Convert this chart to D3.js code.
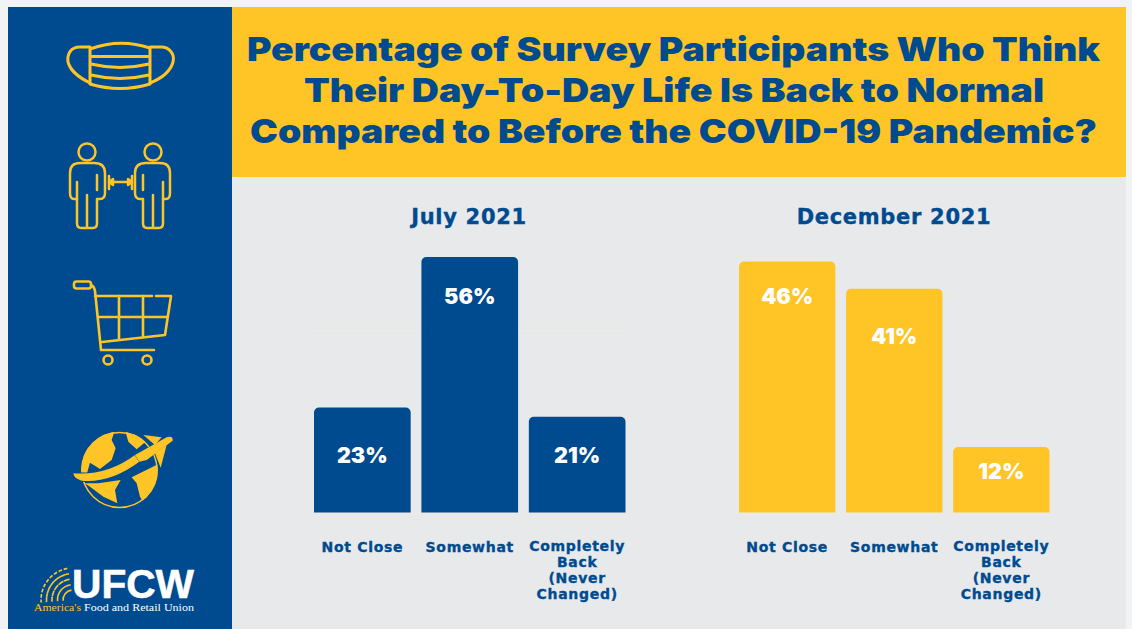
<!DOCTYPE html>
<html>
<head>
<meta charset="utf-8">
<script src="https://cdn.jsdelivr.net/npm/d3@7"></script>
<style>
  html, body { margin: 0; padding: 0; background: #f2f3f5; }
  svg { display: block; }
  text { font-family: Inter, "Open Sans", sans-serif; }
</style>
</head>
<body>
<svg id="chart" width="1132" height="629"></svg>
<script>
// Survey data
const categories = ["Not Close", "Somewhat", "Completely Back (Never Changed)"];
const july2021 = [23, 56, 21];
const december2021 = [46, 41, 12];
const periods = ["July 2021", "December 2021"];
const titleLines = [
  "Percentage of Survey Participants Who Think",
  "Their Day-To-Day Life Is Back to Normal",
  "Compared to Before the COVID-19 Pandemic?"
];
const gridValues = [0, 40];
const wrappedLabel = {
  "Completely Back (Never Changed)": ["Completely", "Back", "(Never", "Changed)"]
};

const BLUE = "#004b8f", YELLOW = "#ffc425", GRAY = "#e8e9eb", GRID = "#efece2";
const WIDE_BOLD = "'DejaVu Sans', sans-serif";
const svg = d3.select("#chart");

// Page panels
svg.append("rect").attr("x", 232).attr("y", 7).attr("width", 894).attr("height", 622).attr("fill", GRAY);
svg.append("rect").attr("x", 232).attr("y", 7).attr("width", 894).attr("height", 170).attr("fill", YELLOW);
svg.append("rect").attr("x", 8).attr("y", 7).attr("width", 224).attr("height", 622).attr("fill", BLUE);

// Heading
const titleX = [247, 304, 250], titleW = [853, 740, 847], titleY = [61, 102, 143];
svg.append("g").selectAll("text").data(titleLines).join("text")
  .attr("x", (d, i) => titleX[i]).attr("y", (d, i) => titleY[i])
  .attr("textLength", (d, i) => titleW[i]).attr("lengthAdjust", "spacingAndGlyphs")
  .attr("font-size", 33).attr("font-weight", 900).attr("fill", BLUE)
  .text(d => d);

// One small-multiple panel: bars, faint grid, value labels, category axis
function panel(values, period, opt) {
  const x = d3.scaleBand().domain(categories).range(opt.xRange).paddingInner(0.1);
  const y = d3.scaleLinear().domain([0, opt.maxValue]).range([512.5, opt.topY]);
  const g = svg.append("g");

  g.append("g").attr("transform", `translate(${opt.xRange[0]},0)`)
    .call(d3.axisLeft(y).tickValues(gridValues).tickFormat("").tickSize(-(opt.xRange[1] - opt.xRange[0])))
    .call(a => a.select(".domain").remove())
    .selectAll("line").attr("stroke", GRID).attr("stroke-width", 1.2);

  const r = 5;
  g.append("g").selectAll("path").data(values).join("path")
    .attr("fill", opt.color)
    .attr("d", (d, i) => {
      const p = d3.path(), x0 = x(categories[i]), w = x.bandwidth(), t = y(d), b = y(0);
      p.moveTo(x0, b);
      p.lineTo(x0, t + r);
      p.arcTo(x0, t, x0 + r, t, r);
      p.lineTo(x0 + w - r, t);
      p.arcTo(x0 + w, t, x0 + w, t + r, r);
      p.lineTo(x0 + w, b);
      p.closePath();
      return p.toString();
    });

  g.append("g").selectAll("text").data(values).join("text")
    .attr("x", (d, i) => x(categories[i]) + x.bandwidth() / 2)
    .attr("y", (d, i) => y(d) + opt.labelDrop[i])
    .attr("text-anchor", "middle").attr("font-size", 21.5).attr("font-weight", 900).attr("fill", "#fff")
    .text(d => d + "%");

  const axis = g.append("g").attr("transform", "translate(0,512.5)")
    .call(d3.axisBottom(x).tickSize(0).tickPadding(0));
  axis.select(".domain").remove();
  axis.selectAll(".tick text").each(function (d) {
    const lines = wrappedLabel[d] || [d];
    const t = d3.select(this).text(null).attr("y", 0).attr("dy", null)
      .attr("font-size", 14).attr("font-weight", 700).attr("fill", BLUE)
      .attr("stroke", BLUE).attr("stroke-width", 0.35).attr("letter-spacing", 0.7)
      .style("font-family", WIDE_BOLD);
    lines.forEach((line, k) => {
      t.append("tspan").attr("x", 0).attr("y", (lines.length > 1 ? 38 : 39) + k * 16.3).text(line);
    });
  });

  g.append("text").attr("x", opt.titleX).attr("y", 223.5)
    .attr("text-anchor", "middle").attr("font-size", 21).attr("font-weight", 700).attr("fill", BLUE)
    .attr("stroke", BLUE).attr("stroke-width", 0.35).attr("letter-spacing", 0.7)
    .style("font-family", WIDE_BOLD)
    .text(period);
}

panel(july2021, periods[0], {
  xRange: [314, 625.5], maxValue: 56, topY: 257, color: BLUE, titleX: 469,
  labelDrop: [55, 47, 46]
});
panel(december2021, periods[1], {
  xRange: [739, 1049.5], maxValue: 46, topY: 261.5, color: YELLOW, titleX: 894,
  labelDrop: [42, 55, 32]
});

// Sidebar pictograms
const icons = svg.append("g").attr("fill", "none").attr("stroke", YELLOW)
  .attr("stroke-width", 3).attr("stroke-linecap", "round").attr("stroke-linejoin", "round");

// Face mask
const mask = icons.append("g");
[
  "M90,49 Q120,38 150,48 V84 Q120,93 90,84 Z",
  "M91,56.5 H149",
  "M91,64 Q120,71 149,64",
  "M91,75 Q120,82 149,75",
  "M90,47 H80 C70,47 67,55 68,62 C71,73 82,79 90,83",
  "M150,47 H161 C170,47 175,55 173,62 C170,73 160,79 150,83"
].forEach(d => mask.append("path").attr("d", d));

// Two people keeping their distance
const person = "M80,163 H94 Q105,163 105,173 V193 Q105,199 100,199 H97 V223 Q97,228 93,228 H81 Q77,228 77,223 V199 H74 Q70,199 70,193 V173 Q70,163 80,163 Z";
const people = icons.append("g").attr("stroke-width", 2.5);
people.append("circle").attr("cx", 87).attr("cy", 152).attr("r", 8.5);
people.append("circle").attr("cx", 153).attr("cy", 152).attr("r", 8.5);
people.append("path").attr("d", person);
people.append("path").attr("d", person).attr("transform", "translate(240,0) scale(-1,1)");
["M87,195 V227", "M97,175 V190", "M77,182 V199", "M153,195 V227", "M143,175 V190", "M163,182 V199",
 "M109,182 H132", "M109,176 V189", "M132,176 V189", "M109,182 L113,179 V185 Z", "M132,182 L128,179 V185 Z"]
  .forEach(d => people.append("path").attr("d", d));

// Shopping cart
const cart = icons.append("g").attr("stroke-width", 2.6);
cart.append("rect").attr("x", 74).attr("y", 281.5).attr("width", 17).attr("height", 7).attr("rx", 2.5);
["M91,285 Q94,286 95,291 L101,350 H154", "M95,296 H152", "M156,296 H171 L165,335 L102,342",
 "M98,317 H113", "M115,317 H167", "M119,296 V339", "M143,296 V336"]
  .forEach(d => cart.append("path").attr("d", d));
cart.append("circle").attr("cx", 108).attr("cy", 360).attr("r", 4.5);
cart.append("circle").attr("cx", 147).attr("cy", 360).attr("r", 4.5);

// Globe with an airplane
const defs = svg.append("defs");
defs.append("clipPath").attr("id", "globe-clip")
  .append("circle").attr("cx", 119.5).attr("cy", 470).attr("r", 38.5);
const globe = svg.append("g").attr("fill", YELLOW);
const globeInner = globe.append("g").attr("clip-path", "url(#globe-clip)")
  .append("g").attr("transform", "translate(0,320) scale(0.3333)");
[
  "M345,330 L335,360 L347,385 L335,420 L300,447 L270,428 L258,470 L215,480 L215,325 Z",
  "M375,330 L385,365 L410,388 L437,365 L420,330 Z",
  "M295,490 L362,480 L345,510 L352,550 L310,530 L270,500 L240,480 L240,490 Z",
  "M395,472 L480,430 L485,510 L440,562 L420,530 L410,490 Z"
].forEach(d => globeInner.append("path").attr("d", d));
globe.append("circle").attr("cx", 119.5).attr("cy", 470).attr("r", 37.5)
  .attr("fill", "none").attr("stroke", YELLOW).attr("stroke-width", 1.5);
const plane = globe.append("g").attr("transform", "translate(0,320) scale(0.3333)");
plane.append("path").attr("d", "M220,460 Q320,468 405,405 L418,425 Q330,490 245,482 Q222,476 220,460 Z")
  .attr("stroke", BLUE).attr("stroke-width", 6).attr("paint-order", "stroke");
plane.append("path").attr("d", "M405,405 L500,352 Q520,345 518,362 L440,420 L418,425 Z")
  .attr("stroke", BLUE).attr("stroke-width", 2).attr("paint-order", "stroke");
plane.append("path").attr("d", "M430,345 L485,352 L465,375 Z");
plane.append("path").attr("d", "M500,375 L482,443 L465,400 Z");

// Union logo
const logo = svg.append("g");
const arcGen = d3.arc();
[[10, null], [15.5, null], [21, "5 1.5"], [26.5, "4 2"], [32, "3 2.5"]].forEach(([rad, dash]) => {
  logo.append("path").attr("transform", "translate(73,600)")
    .attr("d", arcGen({ innerRadius: rad, outerRadius: rad, startAngle: -1.65, endAngle: -0.15 }))
    .attr("fill", "none").attr("stroke", YELLOW).attr("stroke-width", 1.6)
    .attr("stroke-dasharray", dash);
});
logo.append("text").attr("x", 72).attr("y", 598)
  .attr("textLength", 122).attr("lengthAdjust", "spacingAndGlyphs")
  .attr("font-size", 41).attr("font-weight", 700).attr("fill", "#fff")
  .attr("stroke", "#fff").attr("stroke-width", 0.6)
  .style("font-family", "'Liberation Sans', sans-serif").text("UFCW");
logo.append("text").attr("x", 34).attr("y", 611)
  .attr("textLength", 47).attr("lengthAdjust", "spacingAndGlyphs")
  .attr("font-size", 11).attr("fill", YELLOW)
  .style("font-family", "'Liberation Serif', serif").text("America's");
logo.append("text").attr("x", 84).attr("y", 611)
  .attr("textLength", 110).attr("lengthAdjust", "spacingAndGlyphs")
  .attr("font-size", 11).attr("fill", "#fff")
  .style("font-family", "'Liberation Serif', serif").text("Food and Retail Union");
</script>
</body>
</html>
